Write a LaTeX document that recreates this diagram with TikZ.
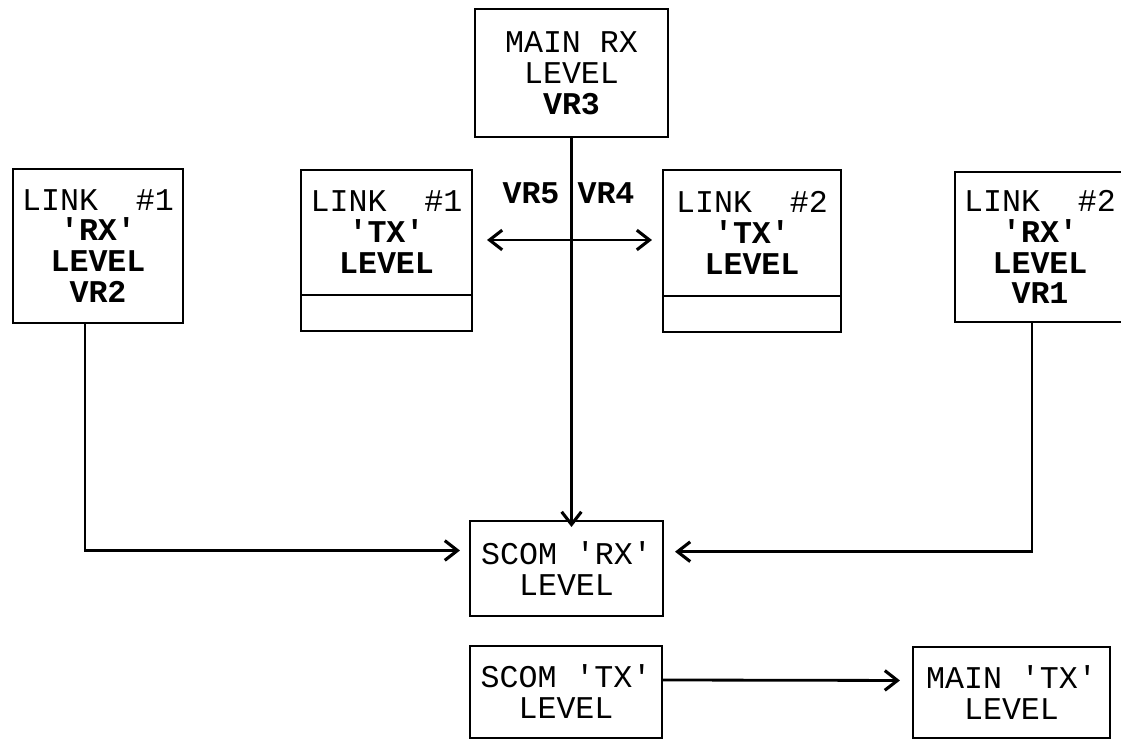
\documentclass[tikz,border=0pt]{standalone}
\usepackage{fontspec}
\setmonofont{Liberation Mono}
\usetikzlibrary{positioning,arrows.meta}

\begin{document}
\begin{tikzpicture}[x=0.025cm, y=-0.025cm,
  box/.style    ={draw, line width=2pt, inner sep=0pt, outer sep=0pt, align=center,
                  font=\ttfamily\fontsize{22.5}{22}\selectfont},
  lowbox/.style ={draw, line width=2pt, inner sep=0pt, outer sep=0pt, minimum height=0.9cm},
  vrlbl/.style  ={inner sep=0pt, font=\ttfamily\bfseries\fontsize{22.5}{22}\selectfont},
  wire/.style   ={line width=2pt},
  arr/.style    ={wire, -{Straight Barb[length=9pt,width=14pt,line width=2.2pt]}, shorten >=0.25cm},
  biarr/.style  ={wire, {Straight Barb[length=9pt,width=14pt,line width=2.2pt]}-{Straight Barb[length=9pt,width=14pt,line width=2.2pt]}},
]
\useasboundingbox (0,0) rectangle (1121,740);
% top: main receive level
\node[box, minimum width=4.825cm, minimum height=3.2cm] (mainrx) at (571.5,73)
  {MAIN RX\\LEVEL\\\textbf{VR3}};
% link receive levels (outer)
\node[box, minimum width=4.25cm, minimum height=3.85cm] (link1rx) at (98,246)
  {LINK~~\#1\\\textbf{'RX'}\\\textbf{LEVEL}\\\textbf{VR2}};
\node[box, minimum width=4.25cm, minimum height=3.75cm] (link2rx) at (1040,247)
  {LINK~~\#2\\\textbf{'RX'}\\\textbf{LEVEL}\\\textbf{VR1}};
% link transmit levels (inner), each with an empty bottom strip
\node[box, minimum width=4.275cm, minimum height=3.125cm] (link1tx) at (386.5,232.5)
  {LINK~~\#1\\\textbf{'TX'}\\\textbf{LEVEL}};
\node[lowbox, minimum width=4.275cm, below=0pt of link1tx] (link1txlow) {};
\node[box, minimum width=4.45cm, minimum height=3.15cm] (link2tx) at (752,233)
  {LINK~~\#2\\\textbf{'TX'}\\\textbf{LEVEL}};
\node[lowbox, minimum width=4.45cm, below=0pt of link2tx] (link2txlow) {};
% scom and main transmit
\node[box, minimum width=4.825cm, minimum height=2.375cm] (scomrx) at (566.5,568.5)
  {SCOM 'RX'\\LEVEL};
\node[box, minimum width=4.8cm, minimum height=2.3cm] (scomtx) at (566,692)
  {SCOM 'TX'\\LEVEL};
\node[box, minimum width=4.925cm, minimum height=2.275cm] (maintx) at (1011.5,692.5)
  {MAIN 'TX'\\LEVEL};
% VR5 / VR4 labels
\node[vrlbl] (vrfive) at (531,193) {VR5};
\node[vrlbl] (vrfour) at (606,193) {VR4};
\coordinate (vrmid) at (569,240);
% connectors
\draw[arr, shorten >=-0.15cm] (mainrx.south) -- (mainrx.south |- scomrx.north);
\draw[biarr, shorten <=0.375cm, shorten >=0.275cm] (link1tx.east |- vrmid) -- (link2tx.west |- vrmid);
\draw[arr] ([xshift=-0.325cm]link1rx.south) |- ([yshift=0.45cm]scomrx.west);
\draw[arr, shorten >=0.3cm] ([xshift=-0.2cm]link2rx.south) |- ([yshift=0.42cm]scomrx.east);
\draw[arr, shorten >=0.325cm] ([yshift=0.3cm]scomtx.east) -- ([yshift=0.3cm]maintx.west);
\end{tikzpicture}
\end{document}
